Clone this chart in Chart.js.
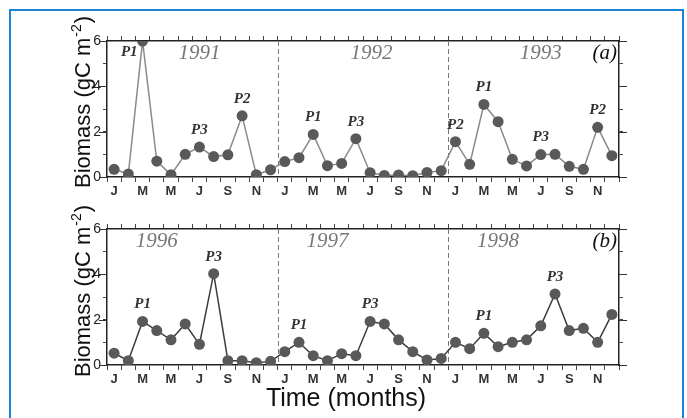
<!DOCTYPE html>
<html>
<head>
<meta charset="utf-8">
<script src="https://cdn.jsdelivr.net/npm/chart.js@4"></script>
<style>
body { margin: 0; background: #fff; width: 687px; height: 418px; overflow: hidden; position: relative; }
#frame { position: absolute; left: 9px; top: 9px; width: 671px; height: 420px; border: 2px solid #1b84d4; border-bottom: none; }
canvas { position: absolute; left: 0; }
</style>
</head>
<body>
<div id="frame"></div>
<canvas id="chartA" width="687" height="205" style="top:0"></canvas>
<canvas id="chartB" width="687" height="213" style="top:205px"></canvas>
<script>
// month initials, three years per panel
var months = ['J', 'F', 'M', 'A', 'M', 'J', 'J', 'A', 'S', 'O', 'N', 'D'];
var monthLabels = months.concat(months, months);

// biomass (gC m-2), panel (a) 1991-1993
var biomassA = [0.34, 0.13, 6.0, 0.7, 0.1, 1.0, 1.32, 0.9, 0.98, 2.7, 0.1, 0.32,
                0.68, 0.85, 1.88, 0.5, 0.6, 1.69, 0.19, 0.07, 0.09, 0.06, 0.2, 0.28,
                1.56, 0.56, 3.2, 2.44, 0.78, 0.49, 0.99, 1.0, 0.47, 0.34, 2.19, 0.94];
// panel (b) 1996-1998
var biomassB = [0.52, 0.19, 1.92, 1.52, 1.11, 1.81, 0.91, 4.03, 0.19, 0.19, 0.1, 0.16,
                0.59, 1.0, 0.41, 0.19, 0.5, 0.41, 1.92, 1.81, 1.11, 0.59, 0.22, 0.29,
                1.0, 0.72, 1.4, 0.81, 1.0, 1.11, 1.73, 3.13, 1.52, 1.62, 1.0, 2.23];

var yearsA = ['1991', '1992', '1993'];
var yearsB = ['1996', '1997', '1998'];

// peak labels: month index and text
var peakIdxA = [2, 6, 9, 14, 17, 24, 26, 30, 34];
var peakTxtA = ['P1', 'P3', 'P2', 'P1', 'P3', 'P2', 'P1', 'P3', 'P2'];
var peakIdxB = [2, 7, 13, 18, 26, 31];
var peakTxtB = ['P1', 'P3', 'P1', 'P3', 'P1', 'P3'];

var yTicks = [0, 2, 4, 6];

var decor = {
    id: 'decor',
    beforeDatasetsDraw: function (chart) {
        var ctx = chart.ctx, a = chart.chartArea, x = chart.scales.x, y = chart.scales.y;
        ctx.save();
        ctx.strokeStyle = '#777';
        ctx.lineWidth = 1;
        ctx.setLineDash([5, 3]);
        [12, 24].forEach(function (m) {
            var px = Math.round((x.getPixelForValue(m - 1) + x.getPixelForValue(m)) / 2) + 0.5;
            ctx.beginPath();
            ctx.moveTo(px, a.top);
            ctx.lineTo(px, a.bottom);
            ctx.stroke();
        });
        // longer ticks at the labelled values
        ctx.setLineDash([]);
        ctx.strokeStyle = '#333';
        yTicks.forEach(function (v) {
            var py = Math.round(y.getPixelForValue(v)) + 0.5;
            ctx.beginPath();
            ctx.moveTo(a.left - 8, py); ctx.lineTo(a.left, py);
            ctx.moveTo(a.right, py); ctx.lineTo(a.right + 8, py);
            ctx.stroke();
        });
        ctx.restore();
    },
    afterDatasetsDraw: function (chart, args, o) {
        var ctx = chart.ctx, a = chart.chartArea;
        var meta = chart.getDatasetMeta(0);
        var step = (a.right - a.left) / 36;
        ctx.save();
        // year labels
        ctx.font = 'italic 21px "Liberation Serif"';
        ctx.fillStyle = '#777';
        ctx.textAlign = 'center';
        ctx.textBaseline = 'middle';
        o.years.forEach(function (t, k) {
            ctx.fillText(t, a.left + step * o.yearPos[k], a.top + 12);
        });
        // panel letter
        ctx.fillStyle = '#111';
        ctx.textAlign = 'right';
        ctx.fillText(o.panel, a.right - 2, a.top + 12);
        // peak labels
        ctx.font = 'italic bold 15px "Liberation Serif"';
        ctx.fillStyle = '#333';
        o.peakIdx.forEach(function (i, k) {
            var p = meta.data[i];
            if (p.y - 22 < a.top) {
                ctx.textAlign = 'right';
                ctx.fillText(o.peakTxt[k], p.x - 5, p.y + 11);
            } else {
                ctx.textAlign = 'center';
                ctx.fillText(o.peakTxt[k], p.x, p.y - 17);
            }
        });
        // y axis title with superscript
        ctx.fillStyle = '#111';
        ctx.translate(90, o.titleBottom);
        ctx.rotate(-Math.PI / 2);
        ctx.textAlign = 'left';
        ctx.textBaseline = 'alphabetic';
        ctx.font = '22px "Liberation Sans"';
        var s1 = 'Biomass (gC m';
        ctx.fillText(s1, 0, 0);
        var w1 = ctx.measureText(s1).width;
        ctx.font = '14px "Liberation Sans"';
        ctx.fillText('-2', w1 + 1, -9);
        var w2 = ctx.measureText('-2').width;
        ctx.font = '22px "Liberation Sans"';
        ctx.fillText(')', w1 + w2 + 2, 0);
        ctx.restore();
        if (o.xTitle) {
            ctx.save();
            ctx.font = '25px "Liberation Sans"';
            ctx.fillStyle = '#111';
            ctx.textAlign = 'center';
            ctx.textBaseline = 'alphabetic';
            ctx.fillText('Time (months)', 346, a.bottom + 41);
            ctx.restore();
        }
    }
};

function makeChart(id, values, lineColor, sizes, extra) {
    var axisBorder = { color: '#222', width: 1.5 };
    var tickGrid = { drawOnChartArea: false, offset: true, tickLength: 5, tickColor: '#444', tickWidth: 1 };
    return new Chart(document.getElementById(id), {
        type: 'line',
        data: {
            labels: monthLabels,
            datasets: [{
                data: values,
                borderColor: lineColor,
                borderWidth: 1.5,
                pointRadius: 5.5,
                pointBackgroundColor: '#595959',
                pointBorderWidth: 0,
                tension: 0
            }]
        },
        options: {
            responsive: false,
            animation: false,
            layout: { padding: 0 },
            plugins: { legend: { display: false }, tooltip: { enabled: false }, decor: extra },
            scales: {
                x: {
                    type: 'category',
                    position: 'bottom',
                    offset: true,
                    border: axisBorder,
                    grid: tickGrid,
                    ticks: {
                        autoSkip: false, maxRotation: 0, padding: 2, color: '#333',
                        font: { family: 'Liberation Sans', size: 13, weight: 'bold' },
                        callback: function (v, i) { return i % 2 === 0 ? monthLabels[i] : ''; }
                    },
                    afterFit: function (s) { s.height = sizes.bottom; }
                },
                x2: {
                    type: 'category',
                    position: 'top',
                    offset: true,
                    border: axisBorder,
                    grid: tickGrid,
                    ticks: { autoSkip: false, callback: function () { return ''; } },
                    afterFit: function (s) { s.height = sizes.top; }
                },
                y: {
                    position: 'left',
                    min: 0, max: 6,
                    border: axisBorder,
                    grid: { drawOnChartArea: false, tickLength: 4, tickColor: '#444' },
                    ticks: {
                        stepSize: 0.5, padding: 2, color: '#222',
                        font: { family: 'Liberation Sans', size: 14 },
                        callback: function (v) { return yTicks.indexOf(v) >= 0 ? v : ''; }
                    },
                    afterFit: function (s) { s.width = 107; }
                },
                y2: {
                    position: 'right',
                    min: 0, max: 6,
                    border: axisBorder,
                    grid: { drawOnChartArea: false, tickLength: 4, tickColor: '#444' },
                    ticks: { stepSize: 0.5, callback: function () { return ''; } },
                    afterFit: function (s) { s.width = 68; }
                }
            }
        },
        plugins: [decor]
    });
}

makeChart('chartA', biomassA, '#8a8a8a', { top: 41, bottom: 28 }, {
    years: yearsA, yearPos: [6.5, 18.6, 30.5], panel: '(a)',
    peakIdx: peakIdxA, peakTxt: peakTxtA, titleBottom: 188, xTitle: false
});
makeChart('chartB', biomassB, '#3c3c3c', { top: 24, bottom: 53 }, {
    years: yearsB, yearPos: [3.5, 15.5, 27.5], panel: '(b)',
    peakIdx: peakIdxB, peakTxt: peakTxtB, titleBottom: 172, xTitle: true
});
</script>
</body>
</html>
